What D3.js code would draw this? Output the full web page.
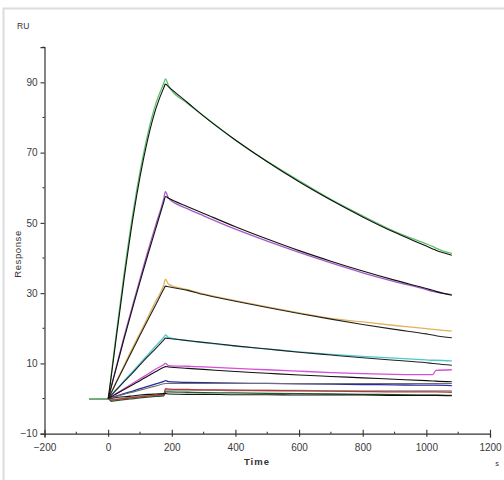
<!DOCTYPE html>
<html>
<head>
<meta charset="utf-8">
<script src="https://cdn.jsdelivr.net/npm/d3@7"></script>
<style>
  html, body { margin: 0; padding: 0; background: #fff; }
  svg { display: block; font-family: "Liberation Sans", Arial, sans-serif; }
</style>
</head>
<body>
<svg id="chart" width="504" height="480"></svg>
<script>
// Time grid (s) shared by every curve
const times = [-60, 0, 10, 25, 50, 80, 100, 125, 150, 175, 180, 190, 250, 300, 400, 500, 600, 700, 800, 900, 1000, 1020, 1030, 1080];

// Measured responses (RU)
const greenObs   = [0, 0, 7, 18, 35.5, 54, 64.5, 75.5, 84, 89.8, 91, 89, 84, 80.5, 73.5, 67.5, 62, 56.7, 52, 47.6, 44, 43.3, 42.8, 41.3];
const purpleObs  = [0, 0, 3.5, 8.8, 17.6, 27.5, 34, 42, 49.5, 57, 58.9, 57, 54, 52, 48.2, 44.8, 41.6, 38.6, 35.8, 33.3, 31, 30.5, 30.3, 29.6];
const orangeObs  = [0, 0, 1.8, 4.7, 9.4, 15, 18.6, 23.2, 27.8, 32.4, 34, 32.5, 31, 29.8, 27.9, 26.1, 24.4, 22.8, 21.8, 20.8, 19.9, 19.7, 19.6, 19.2];
const cyanObs    = [0, 0, 1, 2.5, 5, 8, 10, 12.5, 15, 17.5, 18.1, 17.4, 16.5, 15.9, 14.9, 14.1, 13.3, 12.6, 12, 11.5, 11, 10.9, 10.9, 10.7];
const magentaObs = [0, 0, 0.6, 1.4, 2.8, 4.5, 5.6, 7, 8.4, 9.7, 10, 9.4, 9.2, 9, 8.6, 8.2, 7.8, 7.4, 7.1, 6.9, 6.8, 6.8, 8, 8.2];
const blueObs    = [0, 0, 0.3, 0.7, 1.4, 2.2, 2.8, 3.5, 4.2, 4.9, 5.1, 4.8, 4.6, 4.5, 4.4, 4.3, 4.2, 4.1, 4, 3.9, 3.8, 3.8, 3.8, 3.7];
const grayObs    = [0, 0, -0.3, -0.2, 0.1, 0.4, 0.6, 0.8, 1, 1.2, 2.4, 2.4, 2.4, 2.4, 2.3, 2.3, 2.3, 2.2, 2.2, 2.2, 2.2, 2.2, 2.2, 2.2];
const redObs     = [0, 0, -0.5, -0.3, 0, 0.3, 0.5, 0.7, 0.9, 1.1, 2.8, 2.7, 2.6, 2.5, 2.4, 2.3, 2.2, 2.1, 2, 1.9, 1.9, 1.9, 1.9, 1.8];
const dkGreenObs = [0, 0, -0.8, -0.6, -0.3, 0, 0.2, 0.4, 0.6, 0.8, 1.9, 1.9, 1.8, 1.7, 1.6, 1.5, 1.4, 1.3, 1.2, 1.1, 1, 1, 1, 0.9];

// Fitted curves (RU), no value before injection
const greenFit   = [null, 0, 6.5, 17, 34, 52.5, 63, 74, 82.5, 88.5, 89.5, 88.7, 84.2, 80.4, 73.6, 67.4, 61.7, 56.5, 51.7, 47.3, 43.4, 42.6, 42.2, 40.8];
const purpleFit  = [null, 0, 3.4, 8.5, 17, 26.8, 33.2, 41, 48.5, 56, 57.5, 57, 54.6, 52.7, 48.9, 45.4, 42.1, 39.1, 36.3, 33.7, 31.3, 30.8, 30.5, 29.4];
const orangeFit  = [null, 0, 1.7, 4.5, 9, 14.4, 18, 22.4, 26.8, 31.2, 32, 31.8, 30.8, 29.6, 27.7, 25.9, 24.2, 22.6, 21.1, 19.7, 18.4, 18.1, 17.9, 17.3];
const cyanFit    = [null, 0, 0.95, 2.4, 4.8, 7.6, 9.6, 12, 14.3, 16.7, 17.2, 17.1, 16.5, 16, 15, 14.1, 13.2, 12.4, 11.6, 10.9, 10.2, 10, 9.9, 9.5];
const magentaFit = [null, 0, 0.5, 1.3, 2.6, 4.1, 5.1, 6.4, 7.7, 8.9, 9.1, 9, 8.6, 8.3, 7.7, 7.2, 6.7, 6.3, 5.9, 5.5, 5.1, 5, 4.95, 4.8];
const blueFit    = [null, 0, 0.25, 0.6, 1.2, 1.9, 2.4, 3, 3.6, 4.2, 4.3, 4.3, 4.3, 4.3, 4.3, 4.3, 4.3, 4.3, 4.3, 4.3, 4.3, 4.3, 4.3, 4.3];
const lowFit     = [null, 0, 0.1, 0.3, 0.5, 0.8, 1, 1.2, 1.3, 1.4, 1.4, 1.3, 1.2, 1.2, 1.1, 1.1, 1, 1, 1, 0.9, 0.9, 0.9, 0.9, 0.8];

const xTicks = [-200, 0, 200, 400, 600, 800, 1000, 1200];
const xMinor = [-100, 100, 300, 500, 700, 900, 1100];
const yTicks = [-10, 10, 30, 50, 70, 90];
const yMinor = [0, 20, 40, 60, 80, 100];

const observed = [
  { values: grayObs,    color: '#8c8c8c' },
  { values: dkGreenObs, color: '#1f5a28' },
  { values: redObs,     color: '#b23a3a' },
  { values: blueObs,    color: '#2a2a9c' },
  { values: magentaObs, color: '#d64fd6' },
  { values: cyanObs,    color: '#4cc9cf' },
  { values: orangeObs,  color: '#e2b25a' },
  { values: purpleObs,  color: '#a65ac8' },
  { values: greenObs,   color: '#5cc26a' },
];
const fits = [
  { values: lowFit,     color: '#111' },
  { values: blueFit,    color: '#6e6e6e' },
  { values: magentaFit, color: '#111' },
  { values: cyanFit,    color: '#222' },
  { values: orangeFit,  color: '#222' },
  { values: purpleFit,  color: '#111' },
  { values: greenFit,   color: '#111' },
];

const svg = d3.select('#chart');

// light frame around the plot window
svg.append('rect')
  .attr('x', 3.5).attr('y', 8.5)
  .attr('width', 520).attr('height', 490)
  .attr('fill', 'none')
  .attr('stroke', '#dcdcdc')
  .attr('stroke-width', 2);

const x = d3.scaleLinear().domain([-200, 1200]).range([44.5, 490]);
const y = d3.scaleLinear().domain([-10, 100]).range([433.7, 47.2]);

const line = d3.line()
  .defined(d => d[1] !== null)
  .x(d => x(d[0]))
  .y(d => y(d[1]))
  .curve(d3.curveMonotoneX);

const plot = svg.append('g');

observed.forEach(s => {
  plot.append('path')
    .attr('d', line(times.map((t, i) => [t, s.values[i]])))
    .attr('fill', 'none')
    .attr('stroke', s.color)
    .attr('stroke-width', 1.3);
});
fits.forEach(s => {
  plot.append('path')
    .attr('d', line(times.map((t, i) => [t, s.values[i]])))
    .attr('fill', 'none')
    .attr('stroke', s.color)
    .attr('stroke-width', 1.1);
});

// Axes
const axisColor = '#333';
const yAxis = svg.append('g')
  .attr('transform', `translate(${x(-200)},0)`)
  .call(d3.axisLeft(y).tickValues(yTicks).tickSize(4).tickPadding(3));
yAxis.append('g').selectAll('line')
  .data(yMinor)
  .join('line')
  .attr('x1', -2).attr('x2', 0)
  .attr('y1', d => y(d)).attr('y2', d => y(d));

const xAxis = svg.append('g')
  .attr('transform', `translate(0,${y(-10)})`)
  .call(d3.axisBottom(x).tickValues(xTicks).tickFormat(d3.format('d')).tickSize(4).tickPadding(6));
xAxis.selectAll('.tick line').attr('y1', -4).attr('y2', 3);
xAxis.append('g').selectAll('line')
  .data(xMinor)
  .join('line')
  .attr('x1', d => x(d)).attr('x2', d => x(d))
  .attr('y1', -2).attr('y2', 0);

[xAxis, yAxis].forEach(a => {
  a.select('.domain').attr('stroke', axisColor).attr('stroke-width', 1.2);
  a.selectAll('line').attr('stroke', axisColor).attr('stroke-width', 1.1);
  a.selectAll('text')
    .attr('fill', '#3a3a3a')
    .style('font-size', '10px')
    .style('font-family', '"Liberation Sans", Arial, sans-serif');
});

// Axis titles
svg.append('text')
  .attr('x', 17).attr('y', 29)
  .attr('fill', '#333')
  .style('font-size', '8.5px')
  .text('RU');

svg.append('text')
  .attr('transform', 'translate(21,254) rotate(-90)')
  .attr('text-anchor', 'middle')
  .attr('fill', '#333')
  .style('font-size', '9.5px')
  .style('letter-spacing', '0.6px')
  .text('Response');

svg.append('text')
  .attr('x', 257).attr('y', 465)
  .attr('text-anchor', 'middle')
  .attr('fill', '#333')
  .style('font-size', '9.5px')
  .style('font-weight', 'bold')
  .style('letter-spacing', '1px')
  .text('Time');

svg.append('text')
  .attr('x', 497).attr('y', 466)
  .attr('text-anchor', 'middle')
  .attr('fill', '#333')
  .style('font-size', '7.5px')
  .text('s');
</script>
</body>
</html>
